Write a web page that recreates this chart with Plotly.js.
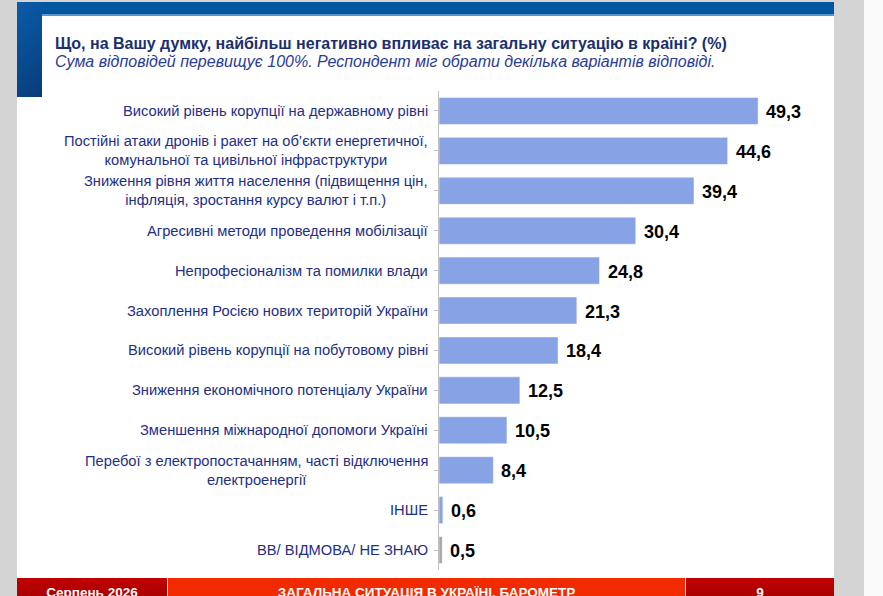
<!DOCTYPE html>
<html>
<head>
<meta charset="utf-8">
<script src="https://cdn.plot.ly/plotly-3.0.1.min.js"></script>
<style>
  html,body{margin:0;padding:0;width:883px;height:596px;overflow:hidden;background:#fafafa;font-family:Arial,"Liberation Sans",sans-serif;}
  .bg{position:absolute;}
  #chart{position:absolute;left:0;top:0;width:883px;height:596px;}
  .foot{position:absolute;top:578px;height:30px;color:#fff;font-weight:bold;font-size:13.5px;text-align:center;line-height:30px;}
</style>
</head>
<body>
<!-- рамка слайда -->
<div class="bg" style="left:0;top:0;width:864px;height:596px;background:#d4d4d4"></div>
<div class="bg" style="left:17px;top:2px;width:817px;height:594px;background:#fff"></div>
<div class="bg" style="left:17px;top:2px;width:817px;height:12px;background:#00579f"></div>
<div class="bg" style="left:42px;top:14px;width:792px;height:2px;background:#5b94cf"></div>
<div class="bg" style="left:17px;top:2px;width:25px;height:95px;background:linear-gradient(135deg,#0a5cab,#083c78)"></div>
<div class="foot" style="left:17px;width:150px;background:linear-gradient(#c00000,#9e0000)">Серпень 2026</div>
<div class="foot" style="left:168px;width:517px;background:#f22a00">ЗАГАЛЬНА СИТУАЦІЯ В УКРАЇНІ. БАРОМЕТР</div>
<div class="foot" style="left:686px;width:148px;background:linear-gradient(#c00000,#9e0000)">9</div>
<div id="chart"></div>
<script>
// дані
const categories = [
  'Високий рівень корупції на державному рівні',
  'Постійні атаки дронів і ракет на об\u2019єкти енергетичної,<br>комунальної та цивільної інфраструктури',
  'Зниження рівня життя населення (підвищення цін,<br>інфляція, зростання курсу валют і т.п.)',
  'Агресивні методи проведення мобілізації',
  'Непрофесіоналізм та помилки влади',
  'Захоплення Росією нових територій України',
  'Високий рівень корупції на побутовому рівні',
  'Зниження економічного потенціалу України',
  'Зменшення міжнародної допомоги Україні',
  'Перебої з електропостачанням, частi відключення<br>електроенергії',
  'ІНШЕ',
  'ВВ/ ВІДМОВА/ НЕ ЗНАЮ'
];
const values = [49.3, 44.6, 39.4, 30.4, 24.8, 21.3, 18.4, 12.5, 10.5, 8.4, 0.6, 0.5];
const barColors = values.map((v,i)=> i===values.length-1 ? '#a6a6a6' : '#87a3e6');

const titleText = 'Що, на Вашу думку, найбільш негативно впливає на загальну ситуацію в країні? (%)';
const subtitleText = 'Сума відповідей перевищує 100%. Респондент міг обрати декілька варіантів відповіді.';

// область графіка в пікселях
const W = 883, H = 596;
const L = 439, R = 795, T = 90.5, B = 570.5;
const px = x => (x - L) / (R - L);
const py = y => (B - y) / (B - T);

const trace = {
  type:'bar', orientation:'h',
  x: values, y: categories.map((c,i)=>i),
  width: 0.68,
  marker:{color: barColors, line:{color:'rgba(255,255,255,0.5)', width:1}},
  hoverinfo:'none'
};

const annotations = [];
categories.forEach((c,i)=>{
  annotations.push({
    xref:'paper', yref:'y', x: px(430), y: i, xanchor:'right', yanchor:'middle',
    text: c, align:'center', showarrow:false,
    font:{family:'Arial, Liberation Sans, sans-serif', size:14.7, color:'#1e2f84'}
  });
  annotations.push({
    xref:'x', yref:'y', x: values[i], y: i, xanchor:'left', yanchor:'middle', xshift:6, yshift:-1,
    text: '<b>' + values[i].toFixed(1).replace('.', ',') + '</b>', showarrow:false,
    font:{family:'Arial, Liberation Sans, sans-serif', size:18, color:'#000'}
  });
});
annotations.push({
  xref:'paper', yref:'paper', x: px(53), y: py(42.5), xanchor:'left', yanchor:'middle',
  text:'<b>'+titleText+'</b>', showarrow:false,
  font:{family:'Arial, Liberation Sans, sans-serif', size:16, color:'#1b2f6e'}
});
annotations.push({
  xref:'paper', yref:'paper', x: px(53), y: py(60.5), xanchor:'left', yanchor:'middle',
  text:'<i>'+subtitleText+'</i>', showarrow:false,
  font:{family:'Arial, Liberation Sans, sans-serif', size:16, color:'#293c94'}
});

const layout = {
  width: W, height: H,
  margin:{l:L, r:W-R, t:T, b:H-B, pad:0},
  paper_bgcolor:'rgba(0,0,0,0)',
  plot_bgcolor:'rgba(0,0,0,0)',
  showlegend:false,
  xaxis:{range:[0,55], showgrid:false, zeroline:false, showticklabels:false, showline:false, fixedrange:true},
  yaxis:{range:[11.5,-0.5], tickmode:'array', tickvals:categories.map((c,i)=>i),
         showticklabels:false, showgrid:false, zeroline:false,
         showline:true, linecolor:'#c0c0c0', linewidth:1.5,
         ticks:'outside', tickson:'boundaries', ticklen:4, tickcolor:'#c0c0c0', fixedrange:true},
  annotations: annotations
};

Plotly.newPlot('chart', [trace], layout, {displayModeBar:false, staticPlot:true});
</script>
</body>
</html>
